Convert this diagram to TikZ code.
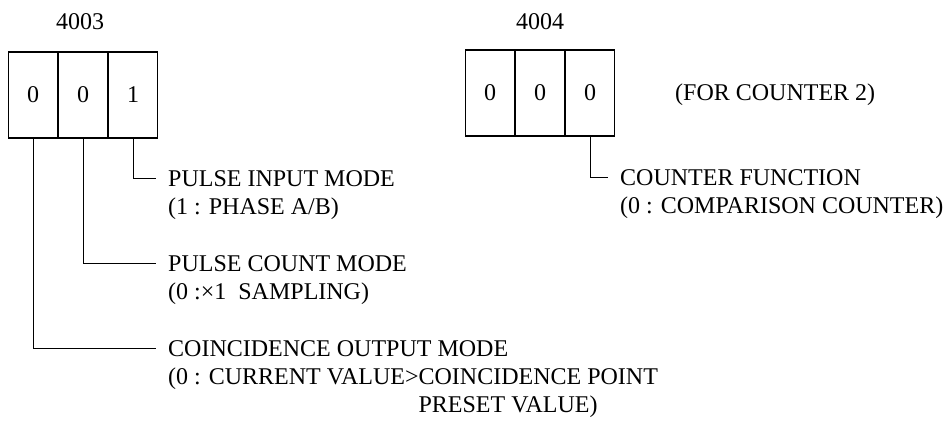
\documentclass[tikz,border=0pt]{standalone}
\usepackage{fontspec}
\setmainfont{Liberation Serif}
\usetikzlibrary{positioning}

\begin{document}
\begin{tikzpicture}[
    x=1pt, y=-1pt,
    cell/.style={
        draw, line width=1.1pt, inner sep=0pt,
        minimum width=49pt, minimum height=86pt,
        font=\fontsize{24}{28}\selectfont
    },
    lbl/.style={
        anchor=west, inner xsep=12pt, inner ysep=0pt,
        text height=16pt, text depth=0pt,
        font=\fontsize{24}{28}\selectfont
    },
    leader/.style={line width=1pt},
    node distance=12pt and 0pt,
]
\useasboundingbox (0,0) rectangle (949,425);

% register 4003
\node[cell] (a1) at (33,95) {0};
\node[cell, right=0pt of a1] (a2) {0};
\node[cell, right=0pt of a2] (a3) {1};
\node[lbl, anchor=center, inner xsep=0pt] (t4003) at (80,22) {4003};

% register 4004
\node[cell] (b1) at (490,93) {0};
\node[cell, right=0pt of b1] (b2) {0};
\node[cell, right=0pt of b2] (b3) {0};
\node[lbl, anchor=center, inner xsep=0pt] (t4004) at (540,22) {4004};
\node[lbl, inner xsep=0pt] (for2) at (675,92) {(FOR COUNTER 2)};

% bit descriptions
\node[lbl] (pim) at (156,178) {PULSE INPUT MODE};
\node[lbl, below=of pim.south west, anchor=north west] (pimv) {(1 : PHASE A/B)};
\node[lbl] (pcm) at (156,263) {PULSE COUNT MODE};
\node[lbl, below=of pcm.south west, anchor=north west] (pcmv) {(0 :×1\ \ SAMPLING)};
\node[lbl] (com) at (156,348) {COINCIDENCE OUTPUT MODE};
\node[lbl, below=of com.south west, anchor=north west] (comv) {(0 : CURRENT VALUE>COINCIDENCE POINT};
\node[lbl, below=of comv.south west, anchor=north west] (comw) {\phantom{(0 : CURRENT VALUE>}PRESET VALUE)};
\node[lbl] (cfn) at (608,177) {COUNTER FUNCTION};
\node[lbl, below=of cfn.south west, anchor=north west] (cfnv) {(0 : COMPARISON COUNTER)};

\draw[leader] (a3.south) |- (pim.west);
\draw[leader] (a2.south) |- (pcm.west);
\draw[leader] (a1.south) |- (com.west);
\draw[leader] (b3.south) |- (cfn.west);
\end{tikzpicture}
\end{document}
